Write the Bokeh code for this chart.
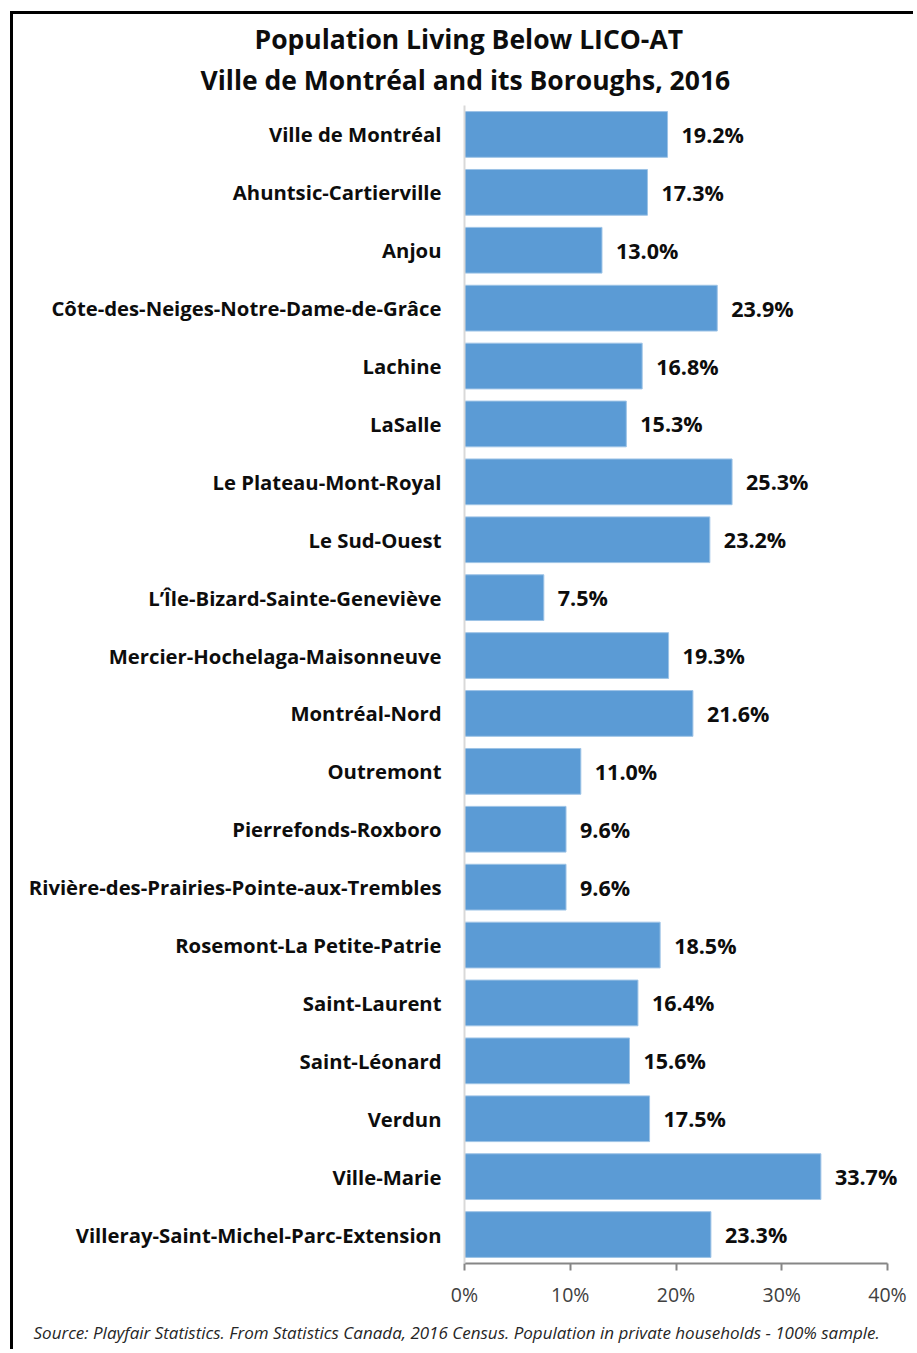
from bokeh.plotting import figure
from bokeh.models import FactorRange, Range1d, FixedTicker, Title, ColumnDataSource
from bokeh.core.properties import value
from bokeh.embed import file_html
from bokeh.resources import INLINE

categories = [
    "Ville de Montréal", "Ahuntsic-Cartierville", "Anjou",
    "Côte-des-Neiges-Notre-Dame-de-Grâce", "Lachine", "LaSalle",
    "Le Plateau-Mont-Royal", "Le Sud-Ouest", "L’Île-Bizard-Sainte-Geneviève",
    "Mercier-Hochelaga-Maisonneuve", "Montréal-Nord", "Outremont",
    "Pierrefonds-Roxboro", "Rivière-des-Prairies-Pointe-aux-Trembles",
    "Rosemont-La Petite-Patrie", "Saint-Laurent", "Saint-Léonard", "Verdun",
    "Ville-Marie", "Villeray-Saint-Michel-Parc-Extension",
]
values = [19.2, 17.3, 13.0, 23.9, 16.8, 15.3, 25.3, 23.2, 7.5, 19.3,
          21.6, 11.0, 9.6, 9.6, 18.5, 16.4, 15.6, 17.5, 33.7, 23.3]
x_ticks = [0, 10, 20, 30, 40]
x_tick_labels = ["0%", "10%", "20%", "30%", "40%"]
title_lines = ["Population Living Below LICO-AT",
               "Ville de Montréal and its Boroughs, 2016"]
source_note = ("Source: Playfair Statistics. From Statistics Canada, 2016 Census. "
               "Population in private households - 100% sample.")

FONT = "Open Sans"

src = ColumnDataSource(dict(
    cat=categories, val=values,
    lab=[f"{v:.1f}%" for v in values],
))

W, H = 903, 1338
frame_left, axis_end_px, frame_right = 451, 874, 900
px_per_unit = (axis_end_px - frame_left) / 40.0
x_end = 40.0 + (frame_right - axis_end_px) / px_per_unit

p = figure(
    width=W, height=H,
    y_range=FactorRange(factors=list(reversed(categories))),
    x_range=Range1d(0, x_end),
    output_backend="svg", toolbar_location=None,
    min_border_left=frame_left, min_border_right=W - frame_right,
    min_border_top=91, min_border_bottom=H - 1251,
    background_fill_color="white", border_fill_color="white",
    outline_line_color=None,
    styles={"margin-left": "10px", "margin-top": "11px",
            "border-top": "3px solid black", "border-left": "3px solid black"},
)

p.hbar(y="cat", right="val", left=0, height=0.79, source=src,
       fill_color="#5b9bd5", line_color="#9dc3e6", line_width=1)

p.text(x="val", y="cat", text="lab", source=src, x_offset=14,
       text_baseline="middle", text_align="left",
       text_font=value(FONT), text_font_style="bold",
       text_font_size="21.5px", text_color="#0d0d0d")

p.xgrid.visible = False
p.ygrid.visible = False

xa = p.xaxis[0]
xa.bounds = (0, 40)
xa.ticker = FixedTicker(ticks=x_ticks)
xa.major_label_overrides = {t: l for t, l in zip(x_ticks, x_tick_labels)}
xa.axis_line_color = "#868686"
xa.axis_line_width = 2
xa.major_tick_line_color = "#868686"
xa.major_tick_line_width = 2
xa.major_tick_out = 7
xa.major_tick_in = 0
xa.minor_tick_line_color = None
xa.major_label_text_font = FONT
xa.major_label_text_font_size = "19.5px"
xa.major_label_text_color = "#404040"
xa.major_label_standoff = 10

ya = p.yaxis[0]
ya.axis_line_color = "#d9d9d9"
ya.axis_line_width = 2
ya.major_tick_line_color = None
ya.minor_tick_line_color = None
ya.major_tick_out = 0
ya.major_tick_in = 0
ya.major_label_text_font = FONT
ya.major_label_text_font_style = "bold"
ya.major_label_text_font_size = "20.3px"
ya.major_label_text_color = "#0d0d0d"
ya.major_label_standoff = 23

p.add_layout(Title(text=title_lines[1], align="left", text_font=FONT,
                   text_font_style="bold", text_font_size="26.5px",
                   text_color="#0d0d0d", standoff=15, offset=-264), "above")
p.add_layout(Title(text=title_lines[0], align="left", text_font=FONT,
                   text_font_style="bold", text_font_size="26.5px",
                   text_color="#0d0d0d", standoff=-8, offset=-210), "above")

p.add_layout(Title(text=source_note, align="left", text_font=FONT,
                   text_font_style="italic", text_font_size="17px",
                   text_color="#262626", standoff=17, offset=-431), "below")

open("out.html", "w").write(file_html(p, INLINE))
